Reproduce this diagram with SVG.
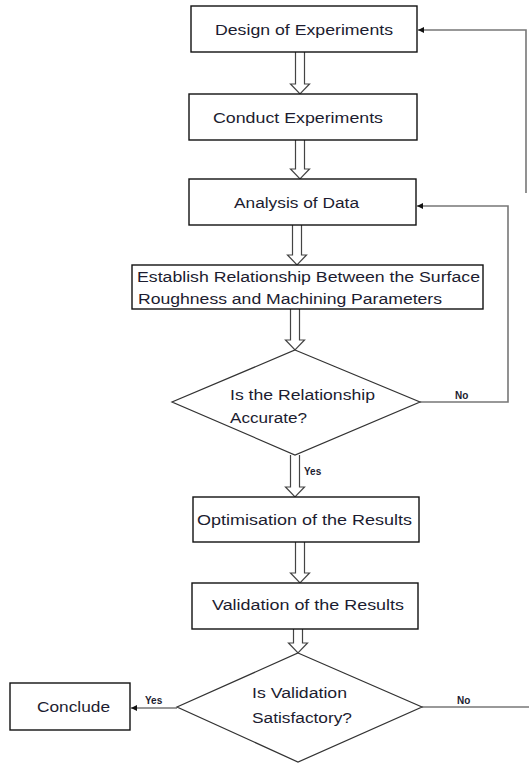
<svg xmlns="http://www.w3.org/2000/svg" width="529" height="763" viewBox="0 0 529 763">
<defs>
<marker id="ah" viewBox="0 0 10 10" refX="10" refY="5" markerWidth="6" markerHeight="6" markerUnits="userSpaceOnUse" orient="auto">
<path d="M0,0 L10,5 L0,10 Z" fill="#111"/>
</marker>
</defs>
<style>
.box{fill:#fff;stroke:#111;stroke-width:1.4}
.dia{fill:#fff;stroke:#333;stroke-width:1.2}
.t{font-family:"Liberation Sans",Arial,sans-serif;font-size:15.5px;fill:#1c1c30}
.c{text-anchor:middle}
.lb{font-family:"Liberation Sans",Arial,sans-serif;font-size:10px;font-weight:bold;fill:#1c1c30}
.ln{fill:none;stroke:#777;stroke-width:1.6}
.ha{fill:#fff;stroke:#444;stroke-width:1.2}
</style>
<g id="connectors">
<path class="ha" d="M295.5,52 V84 H290.5 L300,94 L309.5,84 H304.5 V52"/>
<path class="ha" d="M295.5,140 V169 H290.5 L300,179 L309.5,169 H304.5 V140"/>
<path class="ha" d="M292.5,225 V255 H287.5 L297,265 L306.5,255 H301.5 V225"/>
<path class="ha" d="M290.5,309 V340 H285.5 L295,350 L304.5,340 H299.5 V309"/>
<path class="ha" d="M290.5,455 V487 H285.5 L295,497 L304.5,487 H299.5 V455"/>
<path class="ha" d="M295.5,542 V573 H290.5 L300,583 L309.5,573 H304.5 V542"/>
<path class="ha" d="M293.5,629 V643 H288.5 L298,653 L307.5,643 H302.5 V629"/>
<polyline class="ln" points="526,193 526,30 418,30" marker-end="url(#ah)"/>
<polyline class="ln" points="420,402 508,402 508,206 417,206" marker-end="url(#ah)"/>
<line class="ln" x1="177" y1="708" x2="131" y2="708" marker-end="url(#ah)"/>
<line class="ln" x1="422" y1="707" x2="529" y2="707"/>
<text class="lb" x="455" y="399">No</text>
<text class="lb" x="304" y="475">Yes</text>
<text class="lb" x="145" y="704">Yes</text>
<text class="lb" x="457" y="704">No</text>
</g>
<g id="design">
<rect class="box" x="191" y="6" width="226" height="46"/>
<text class="t" x="215" y="35" textLength="178" lengthAdjust="spacingAndGlyphs">Design of Experiments</text>
</g>
<g id="conduct">
<rect class="box" x="189" y="94" width="228" height="46"/>
<text class="t" x="213" y="123" textLength="170" lengthAdjust="spacingAndGlyphs">Conduct Experiments</text>
</g>
<g id="analysis">
<rect class="box" x="189" y="179" width="227" height="46"/>
<text class="t" x="234" y="208" textLength="125" lengthAdjust="spacingAndGlyphs">Analysis of Data</text>
</g>
<g id="establish">
<rect class="box" x="132" y="265" width="351" height="44"/>
<text class="t" x="137" y="282" textLength="343" lengthAdjust="spacingAndGlyphs">Establish Relationship Between the Surface</text>
<text class="t" x="138" y="304" textLength="304" lengthAdjust="spacingAndGlyphs">Roughness and Machining Parameters</text>
</g>
<g id="accurate">
<polygon class="dia" points="295,350 420,402 295,455 172,402"/>
<text class="t" x="230" y="400" textLength="145" lengthAdjust="spacingAndGlyphs">Is the Relationship</text>
<text class="t" x="230" y="423" textLength="77" lengthAdjust="spacingAndGlyphs">Accurate?</text>
</g>
<g id="optimisation">
<rect class="box" x="193" y="497" width="226" height="45"/>
<text class="t" x="197" y="525" textLength="215" lengthAdjust="spacingAndGlyphs">Optimisation of the Results</text>
</g>
<g id="validation">
<rect class="box" x="192" y="583" width="226" height="46"/>
<text class="t" x="212" y="610" textLength="192" lengthAdjust="spacingAndGlyphs">Validation of the Results</text>
</g>
<g id="satisfactory">
<polygon class="dia" points="298,653 422,707 298,762 177,707"/>
<text class="t" x="252" y="698" textLength="95" lengthAdjust="spacingAndGlyphs">Is Validation</text>
<text class="t" x="252" y="723" textLength="100" lengthAdjust="spacingAndGlyphs">Satisfactory?</text>
</g>
<g id="conclude">
<rect class="box" x="10" y="683" width="120" height="47"/>
<text class="t" x="37" y="712" textLength="73" lengthAdjust="spacingAndGlyphs">Conclude</text>
</g>
</svg>
